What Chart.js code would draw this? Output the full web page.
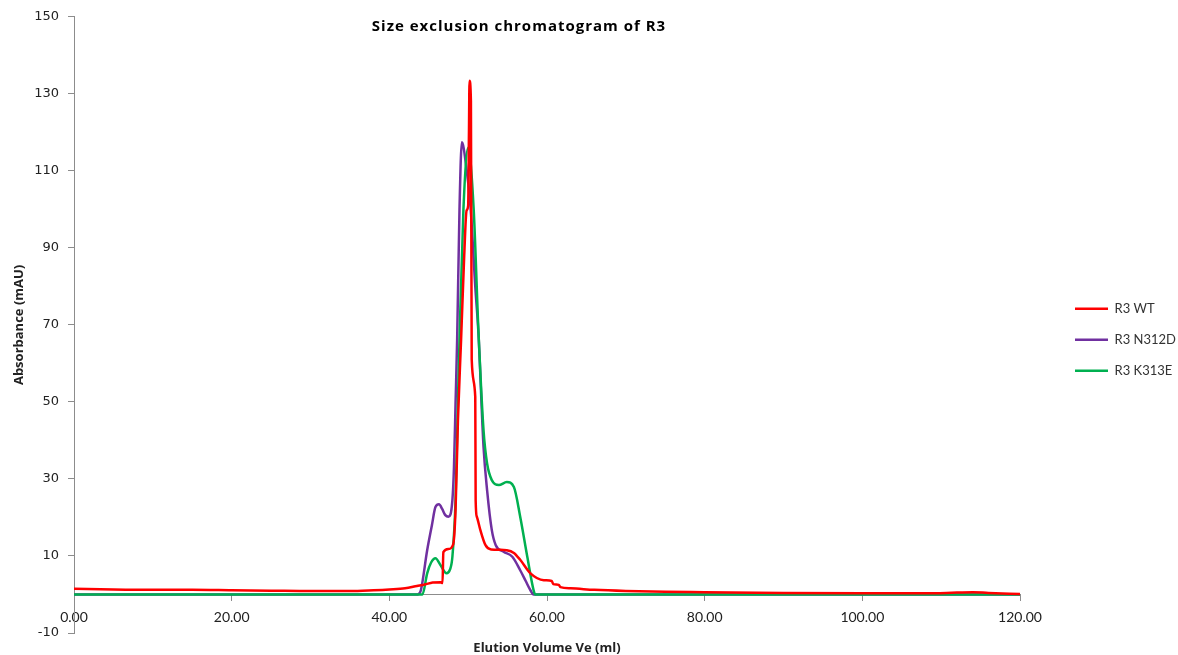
<!DOCTYPE html>
<html>
<head>
<meta charset="utf-8">
<script src="https://cdn.jsdelivr.net/npm/chart.js@4/dist/chart.umd.min.js"></script>
<style>
  html, body { margin: 0; padding: 0; background: #fff; }
  #wrap { width: 1178px; height: 655px; }
</style>
</head>
<body>
<div id="wrap"><canvas id="sec"></canvas></div>
<script>
// elution volume (ml) and absorbance (mAU)
const wtVolume = [0, 5, 10, 15, 20, 25, 30, 35, 38, 40, 42, 43.5, 44.5, 45.5, 46.5, 46.75, 46.85, 47.5, 48.1, 48.4, 48.7, 49.1, 49.5, 49.8, 50.0, 50.1, 50.17, 50.35, 50.45, 50.9, 50.95, 51.1, 51.55, 52.2, 52.9, 54.0, 54.9, 55.8, 56.6, 57.9, 59.6, 60.6, 60.8, 61.5, 61.7, 63, 66, 70, 75, 80, 90, 100, 108, 112, 114, 116, 120]
const wtAbs = [1.5, 1.3, 1.2, 1.2, 1.1, 1.0, 0.9, 0.9, 1.1, 1.3, 1.6, 2.2, 2.6, 3.1, 3.2, 3.0, 11.0, 11.8, 13, 22, 45, 66, 88, 99.7, 101, 120, 133.4, 128, 61, 51.3, 24.5, 20.2, 16.7, 12.8, 11.7, 11.6, 11.5, 10.8, 9.0, 5.5, 3.7, 3.5, 2.7, 2.5, 1.9, 1.6, 1.2, 0.9, 0.7, 0.6, 0.4, 0.3, 0.3, 0.5, 0.6, 0.4, 0.1]

const n312dVolume = [0, 43.6, 44.0, 44.8, 45.4, 45.85, 46.3, 46.7, 47.1, 47.5, 48.0, 48.2, 48.4, 48.6, 48.9, 49.2, 49.7, 50.3, 50.9, 51.3, 51.95, 52.4, 53.0, 53.5, 54.5, 55.6, 56.6, 57.3, 57.9, 58.3, 120]
const n312dAbs = [0, 0, 1.1, 11.5, 18, 22.7, 23.4, 22.2, 20.6, 20.2, 24.5, 33.1, 49.6, 66, 100, 117.4, 112, 100.5, 80, 68, 38.3, 27.1, 16.7, 12.8, 11.1, 9.8, 6.3, 3.5, 1.1, 0, 0]

const k313eVolume = [0, 44.2, 44.8, 45.3, 45.85, 46.5, 47.25, 47.7, 48.0, 48.4, 48.7, 48.9, 49.4, 50.0, 50.7, 51.3, 51.95, 52.4, 53.0, 53.9, 54.9, 55.8, 56.6, 57.5, 58.3, 58.5, 120]
const k313eAbs = [0, 0, 5.5, 8.3, 9.4, 7.6, 5.5, 6.5, 9.8, 24.5, 50, 66, 100, 116, 100, 68.6, 42.6, 34, 29.7, 28.4, 29.2, 27.9, 20.2, 9.8, 1.1, 0, 0]

const xTicks = [0, 20, 40, 60, 80, 100, 120]
const yTicks = [-10, 10, 30, 50, 70, 90, 110, 130, 150]

const toPoints = (xs, ys) => xs.map((x, i) => ({ x: x, y: ys[i] }))

const chartTitle = {
  id: 'chartTitle',
  afterDraw(chart) {
    const ctx = chart.ctx
    ctx.save()
    ctx.font = 'bold 15px "Open Sans"'
    ctx.letterSpacing = '1px'
    ctx.fillStyle = '#000'
    ctx.textAlign = 'center'
    ctx.textBaseline = 'middle'
    ctx.fillText('Size exclusion chromatogram of R3', 519, 27)
    ctx.restore()
  }
}

const axisColor = '#8c8c8c'

new Chart(document.getElementById('sec'), {
  type: 'line',
  data: {
    datasets: [
      { label: 'R3 WT', data: toPoints(wtVolume, wtAbs), borderColor: '#ff0000', backgroundColor: '#ff0000', borderWidth: 2.5, order: 0 },
      { label: 'R3 N312D', data: toPoints(n312dVolume, n312dAbs), borderColor: '#7030a0', backgroundColor: '#7030a0', borderWidth: 2.5, order: 2 },
      { label: 'R3 K313E', data: toPoints(k313eVolume, k313eAbs), borderColor: '#00b050', backgroundColor: '#00b050', borderWidth: 2.5, order: 1 }
    ]
  },
  options: {
    responsive: true,
    maintainAspectRatio: false,
    animation: false,
    layout: { padding: { left: 0, right: 0, top: 16, bottom: 22 } },
    elements: {
      point: { radius: 0 },
      line: { cubicInterpolationMode: 'monotone' }
    },
    plugins: {
      tooltip: { enabled: false },
      legend: {
        position: 'right',
        align: 'center',
        maxWidth: 121,
        title: { display: true, text: ' ', padding: 8, font: { size: 12 } },
        labels: {
          sort: (a, b) => a.datasetIndex - b.datasetIndex,
          usePointStyle: true,
          pointStyle: 'line',
          pointStyleWidth: 33,
          padding: 18,
          color: '#333',
          font: { family: 'Lato', size: 13 }
        }
      }
    },
    scales: {
      x: {
        type: 'linear',
        position: { y: 0 },
        min: 0,
        max: 120,
        afterBuildTicks: (s) => { s.ticks = xTicks.map(v => ({ value: v })) },
        ticks: {
          padding: 9,
          color: '#222',
          font: { family: 'Lato', size: 14 },
          callback: (v) => Number(v).toFixed(2)
        },
        grid: { drawOnChartArea: false, tickLength: 6, color: axisColor },
        border: { color: axisColor, width: 1 },
        title: {
          display: true,
          text: 'Elution Volume Ve (ml)',
          color: '#222',
          font: { family: 'Open Sans', size: 13, weight: 'bold' },
          padding: { top: 5, bottom: 4 }
        }
      },
      y: {
        min: -10,
        max: 150,
        afterBuildTicks: (s) => { s.ticks = yTicks.map(v => ({ value: v })) },
        afterFit: (s) => { s.width = 74 },
        ticks: {
          padding: 9,
          color: '#222',
          font: { family: 'DejaVu Sans', size: 13 }
        },
        grid: { drawOnChartArea: false, tickLength: 6, color: axisColor },
        border: { color: axisColor, width: 1 },
        title: {
          display: true,
          text: 'Absorbance (mAU)',
          color: '#222',
          font: { family: 'Open Sans', size: 13, weight: 'bold' },
          padding: { top: 11, bottom: 0 }
        }
      },
      gap: {
        type: 'linear',
        position: 'right',
        display: true,
        afterFit: (s) => { s.width = 37 },
        ticks: { display: false },
        grid: { display: false, drawTicks: false },
        border: { display: false }
      }
    }
  },
  plugins: [chartTitle]
})
</script>
</body>
</html>
